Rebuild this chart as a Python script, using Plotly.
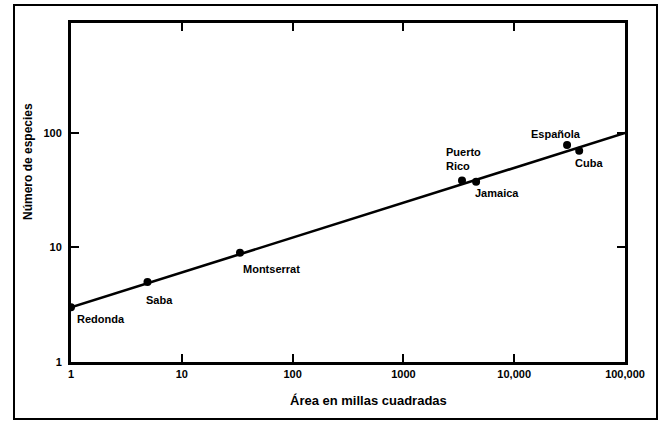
import numpy as np
import plotly.graph_objects as go

islands = ["Redonda", "Saba", "Montserrat", "Puerto<br>Rico", "Jamaica", "Española", "Cuba"]
area = [1.0, 4.9, 33.5, 3380, 4530, 30000, 38600]
species = [3.0, 5.0, 9.0, 38.5, 37.5, 78.5, 70]
fit_area = [1, 100000]
fit_species = [3.0, 100.0]

x_ticks = [1, 10, 100, 1000, 10000, 100000]
x_ticktext = ["1", "10", "100", "1000", "10,000", "100,000"]
y_ticks = [1, 10, 100, 1000]
y_ticktext = ["1", "10", "100", ""]

# label offsets (pixels) relative to each point: (xshift, yshift)
label_offsets = [(4, -12), (-3, -18), (1, -16), (-18, 21), (-3, -11), (-38, 11), (-6, -12)]

font_family = "Liberation Sans, Arial, sans-serif"

fig = go.Figure()
fig.add_trace(go.Scatter(x=fit_area, y=fit_species, mode="lines",
                         line=dict(color="black", width=2.6), hoverinfo="skip"))
fig.add_trace(go.Scatter(x=area, y=species, mode="markers",
                         marker=dict(color="black", size=8)))

for name, a, s, (dx, dy) in zip(islands, area, species, label_offsets):
    fig.add_annotation(x=np.log10(a), y=np.log10(s), xref="x", yref="y",
                       text=name, showarrow=False, xanchor="left", yanchor="middle",
                       align="left", xshift=dx, yshift=dy,
                       font=dict(family=font_family, size=11, color="black", weight="bold"))

L, R, T, B = 71, 36, 23, 59
W, H = 661, 421
pw, ph = W - L - R, H - T - B

def px(xp):
    return (xp - L) / pw

def py(yp):
    return (H - B - yp) / ph

# outer frame
fig.add_shape(type="rect", xref="paper", yref="paper",
              x0=px(14), x1=px(657), y0=py(419), y1=py(5),
              line=dict(color="black", width=2), layer="below")

# axis titles
fig.add_annotation(x=px(368), y=py(400), xref="paper", yref="paper",
                   text="Área en millas cuadradas", showarrow=False,
                   xanchor="center", yanchor="middle",
                   font=dict(family=font_family, size=13, color="black", weight="bold"))
fig.add_annotation(x=px(28), y=py(161), xref="paper", yref="paper",
                   text="Número de especies", showarrow=False, textangle=-90,
                   xanchor="center", yanchor="middle",
                   font=dict(family=font_family, size=12, color="black", weight="bold"))

axis_common = dict(showline=True, linecolor="black", linewidth=3, mirror="allticks",
                   ticks="inside", ticklen=8, tickwidth=2, tickcolor="black",
                   showgrid=False, zeroline=False, automargin=False,
                   tickfont=dict(family=font_family, size=11, color="black", weight="bold"))

fig.update_xaxes(type="log", range=[0, 5], tickvals=x_ticks, ticktext=x_ticktext, **axis_common)
fig.update_yaxes(type="log", range=[0, 2.96], tickvals=y_ticks, ticktext=y_ticktext,
                 ticklabelstandoff=4, **axis_common)

fig.update_layout(width=W, height=H, margin=dict(l=L, r=R, t=T, b=B, autoexpand=False),
                  template="none",
                  plot_bgcolor="white", paper_bgcolor="white", showlegend=False)

fig.write_html("out.html", config={"displayModeBar": False},
               post_script="document.body.style.margin='0';document.body.style.overflow='hidden';")
